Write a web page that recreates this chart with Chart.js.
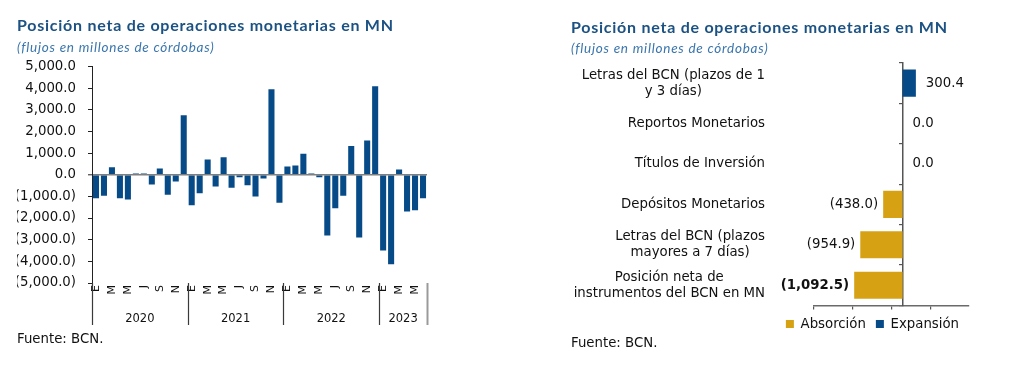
<!DOCTYPE html>
<html>
<head>
<meta charset="utf-8">
<script src="https://cdn.jsdelivr.net/npm/chart.js@4.4.0/dist/chart.umd.min.js"></script>
<style>
  html, body { margin: 0; padding: 0; background: #ffffff; }
  body { width: 1010px; height: 381px; position: relative; overflow: hidden; font-family: "DejaVu Sans", sans-serif; }
  #leftWrap { position: absolute; left: 0; top: 0; width: 450px; height: 381px; }
  #rightWrap { position: absolute; left: 555px; top: 0; width: 455px; height: 381px; }
  .src { position: absolute; font-size: 13.3px; line-height: 16px; color: #111; white-space: nowrap; }
</style>
</head>
<body>
<div id="leftWrap"><canvas id="left"></canvas></div>
<div id="rightWrap"><canvas id="right"></canvas></div>
<div class="src" style="left:17px; top:331px;">Fuente: BCN.</div>
<div class="src" style="left:571px; top:335px;">Fuente: BCN.</div>
<script>
// ---------------- DATA ----------------
const titleText = "Posición neta de operaciones monetarias en MN";
const subtitleText = "(flujos en millones de córdobas)";

// Left chart: monthly net flows Jan 2020 – Jun 2023
const monthLetters = ["E","F","M","A","M","J","J","A","S","O","N","D"];
const years = ["2020","2021","2022","2023"];
const monthsPerYear = [12, 12, 12, 6];
const netFlows = [
  -1090,  -970,   340, -1090, -1150,    60,    60,  -450,   290,  -920,  -310,  2745,
  -1410,  -860,   705,  -550,   800,  -600,  -120,  -490, -1010,  -170,  3940, -1290,
    380,   430,   970,    60,  -120, -2810, -1550,  -970,  1330, -2900,  1580,  4080,
  -3500, -4140,   245, -1700, -1640, -1090
];
const yTicksLeft = { min: -5000, max: 5000, step: 1000 };

// Right chart: instruments
const instrumentLabels = [
  ["Letras del BCN (plazos de 1", "y 3 días)"],
  ["Reportos Monetarios"],
  ["Títulos de Inversión"],
  ["Depósitos Monetarios"],
  ["Letras del BCN (plazos", "mayores a 7 días)"],
  ["Posición neta de", "instrumentos del BCN en MN"]
];
const instrumentValues = [300.4, 0.0, 0.0, -438.0, -954.9, -1092.5];
const seriesNames = ["Absorción", "Expansión"];
const xRangeRight = { min: -2000, max: 1500, step: 1000 };

// ---------------- STYLE ----------------
const BLUE = "#064b88";
const GOLD = "#d6a214";
const TITLE_COLOR = "#1b5283";
const SUB_COLOR = "#3a76ad";
const TEXT = "#111111";
const AXISFONT = "DejaVu Sans";
Chart.defaults.font.family = AXISFONT;
Chart.defaults.color = TEXT;

const monthLabels = [];
years.forEach((y, k) => { for (let m = 0; m < monthsPerYear[k]; m++) monthLabels.push(monthLetters[m]); });

function fmt(v) {
  const s = Math.abs(v).toLocaleString("en-US", { minimumFractionDigits: 1, maximumFractionDigits: 1 });
  return v < 0 ? "(" + s + ")" : s;
}

// Letter-spacing for title / subtitle boxes (wide geometric title font)
const spacedTitles = {
  id: "spacedTitles",
  beforeDraw(chart) {
    chart.boxes.forEach(b => {
      if (b._spaced || !b.options) return;
      let sp = null;
      if (b.options.text === titleText) sp = "0.75px";
      else if (b.options.text === subtitleText) sp = "0.75px";
      if (!sp) return;
      const orig = b.draw.bind(b);
      b.draw = function (...args) {
        const ctx = chart.ctx;
        ctx.save();
        ctx.letterSpacing = sp;
        orig(...args);
        ctx.restore();
      };
      b._spaced = true;
    });
  }
};

// Year grouping plugin for left chart
const yearAxisPlugin = {
  id: "yearAxis",
  afterDraw(chart) {
    const { ctx, chartArea, scales: { x } } = chart;
    const half = (x.getPixelForValue(1) - x.getPixelForValue(0)) / 2;
    ctx.save();
    ctx.font = "11.5px " + AXISFONT;
    ctx.fillStyle = TEXT;
    ctx.textAlign = "center";
    ctx.textBaseline = "middle";
    const bounds = [];
    let start = 0;
    years.forEach((yr, k) => {
      const n = monthsPerYear[k];
      const l = x.getPixelForValue(start) - half;
      const r = x.getPixelForValue(start + n - 1) + half;
      bounds.push(l);
      if (k === years.length - 1) bounds.push(r);
      ctx.fillText(yr, (l + r) / 2, chartArea.bottom + 36);
      start += n;
    });
    bounds.forEach((b, i) => {
      ctx.beginPath();
      ctx.strokeStyle = i === bounds.length - 1 ? "#9a9a9a" : "#3a3a3a";
      ctx.lineWidth = i === bounds.length - 1 ? 2 : 1.2;
      ctx.moveTo(Math.round(b) + 0.5, chartArea.bottom);
      ctx.lineTo(Math.round(b) + 0.5, chartArea.bottom + 42);
      ctx.stroke();
    });
    ctx.restore();
  }
};

// Category labels plugin for right chart (right-aligned block, centered lines)
const catLabelPlugin = {
  id: "catLabels",
  afterDraw(chart) {
    const { ctx, chartArea, scales: { y } } = chart;
    ctx.save();
    ctx.font = "13.3px " + AXISFONT;
    ctx.fillStyle = TEXT;
    ctx.textAlign = "center";
    ctx.textBaseline = "middle";
    const right = chartArea.left - 49;
    const lh = 16;
    instrumentLabels.forEach((lines, i) => {
      const w = Math.max(...lines.map(l => ctx.measureText(l).width));
      const cx = right - w / 2;
      const cy = y.getPixelForValue(i);
      lines.forEach((ln, j) => ctx.fillText(ln, cx, cy + (j - (lines.length - 1) / 2) * lh));
    });
    ctx.restore();
  }
};

// Value labels for right chart
const valueLabelPlugin = {
  id: "valueLabels",
  afterDatasetsDraw(chart) {
    const { ctx, scales: { x, y } } = chart;
    ctx.save();
    ctx.fillStyle = TEXT;
    ctx.textBaseline = "middle";
    const last = instrumentValues.length - 1;
    instrumentValues.forEach((v, i) => {
      const px = x.getPixelForValue(v);
      const cy = y.getPixelForValue(i);
      ctx.font = (i === last ? "bold " : "") + "13.3px " + AXISFONT;
      if (v >= 0) { ctx.textAlign = "left"; ctx.fillText(fmt(v), px + 10, cy); }
      else { ctx.textAlign = "right"; ctx.fillText(fmt(v), px - 5, cy); }
    });
    ctx.restore();
  }
};

// ---------------- LEFT CHART ----------------
new Chart(document.getElementById("left"), {
  type: "bar",
  data: {
    labels: monthLabels,
    datasets: [{
      label: "Posición neta",
      data: netFlows,
      backgroundColor: BLUE,
      borderWidth: 0,
      barPercentage: 0.76,
      categoryPercentage: 1.0
    }]
  },
  options: {
    responsive: true,
    maintainAspectRatio: false,
    animation: false,
    layout: { padding: { left: 17, right: 23, top: 0, bottom: 84 } },
    plugins: {
      legend: { display: false },
      tooltip: { enabled: false },
      title: {
        display: true, text: titleText, align: "start", color: TITLE_COLOR,
        font: { family: "Lato", size: 16, weight: "bold" },
        padding: { top: 16, bottom: 4 }
      },
      subtitle: {
        display: true, text: subtitleText, align: "start", color: SUB_COLOR,
        font: { family: "Lato", size: 13.5, style: "italic" },
        padding: { top: 0, bottom: 11 }
      }
    },
    scales: {
      x: {
        ticks: {
          autoSkip: false, maxRotation: 90, minRotation: 90, padding: 2,
          font: { size: 11 }, color: TEXT,
          callback: (v, i) => (i % 2 === 0 ? monthLabels[i] : "")
        },
        grid: { display: false, drawTicks: false },
        border: { display: false },
        afterFit: s => { s.height = 14; }
      },
      y: {
        min: yTicksLeft.min, max: yTicksLeft.max,
        z: 1,
        ticks: { stepSize: yTicksLeft.step, padding: 12, font: { size: 13.3 }, color: TEXT, callback: v => fmt(v) },
        grid: {
          color: c => (c.tick && c.tick.value === 0 ? "#7f7f7f" : "rgba(0,0,0,0)"),
          lineWidth: c => (c.tick && c.tick.value === 0 ? 1.6 : 1),
          tickColor: "#222", tickWidth: 1, tickLength: 4
        },
        border: { display: true, color: "#222", width: 1 },
        afterFit: s => { s.width = 75; }
      }
    }
  },
  plugins: [spacedTitles, yearAxisPlugin]
});

// ---------------- RIGHT CHART ----------------
new Chart(document.getElementById("right"), {
  type: "bar",
  data: {
    labels: instrumentLabels,
    datasets: [
      {
        label: seriesNames[0],
        data: instrumentValues.map(v => (v < 0 ? v : null)),
        backgroundColor: GOLD, borderWidth: 0,
        barPercentage: 0.67, categoryPercentage: 1.0, grouped: false
      },
      {
        label: seriesNames[1],
        data: instrumentValues.map(v => (v >= 0 ? v : null)),
        backgroundColor: BLUE, borderWidth: 0,
        barPercentage: 0.67, categoryPercentage: 1.0, grouped: false
      }
    ]
  },
  options: {
    indexAxis: "y",
    responsive: true,
    maintainAspectRatio: false,
    animation: false,
    layout: { padding: { left: 16, right: 41, top: 0, bottom: 40.3 } },
    plugins: {
      tooltip: { enabled: false },
      title: {
        display: true, text: titleText, align: "start", color: TITLE_COLOR,
        font: { family: "Lato", size: 16, weight: "bold" },
        padding: { top: 18, bottom: 3.5 }
      },
      subtitle: {
        display: true, text: subtitleText, align: "start", color: SUB_COLOR,
        font: { family: "Lato", size: 13.5, style: "italic" },
        padding: { top: 0, bottom: 6 }
      },
      legend: {
        position: "bottom", align: "end",
        labels: { boxWidth: 8, boxHeight: 8, padding: 10, color: TEXT, font: { size: 13.3 } }
      }
    },
    scales: {
      x: {
        min: xRangeRight.min, max: xRangeRight.max,
        afterBuildTicks: s => { s.ticks = s.ticks.filter(t => t.value <= 1000); },
        ticks: { display: false, stepSize: xRangeRight.step },
        grid: { drawOnChartArea: false, drawTicks: true, tickLength: 4, color: "#555", lineWidth: 1.2 },
        border: { display: true, color: "#6a6a6a", width: 1.5 },
        afterFit: s => { s.height = 2; }
      },
      y: {
        ticks: { display: false },
        grid: { display: false },
        border: { display: false },
        afterFit: s => { s.width = 243; }
      },
      y2: {
        type: "category",
        labels: instrumentLabels,
        position: { x: 0 },
        ticks: { display: false },
        grid: { drawOnChartArea: false, offset: true, tickLength: 3, color: "#555", lineWidth: 1.2 },
        border: { display: true, color: "#555", width: 1.5 }
      }
    }
  },
  plugins: [spacedTitles, catLabelPlugin, valueLabelPlugin]
});
</script>
</body>
</html>
